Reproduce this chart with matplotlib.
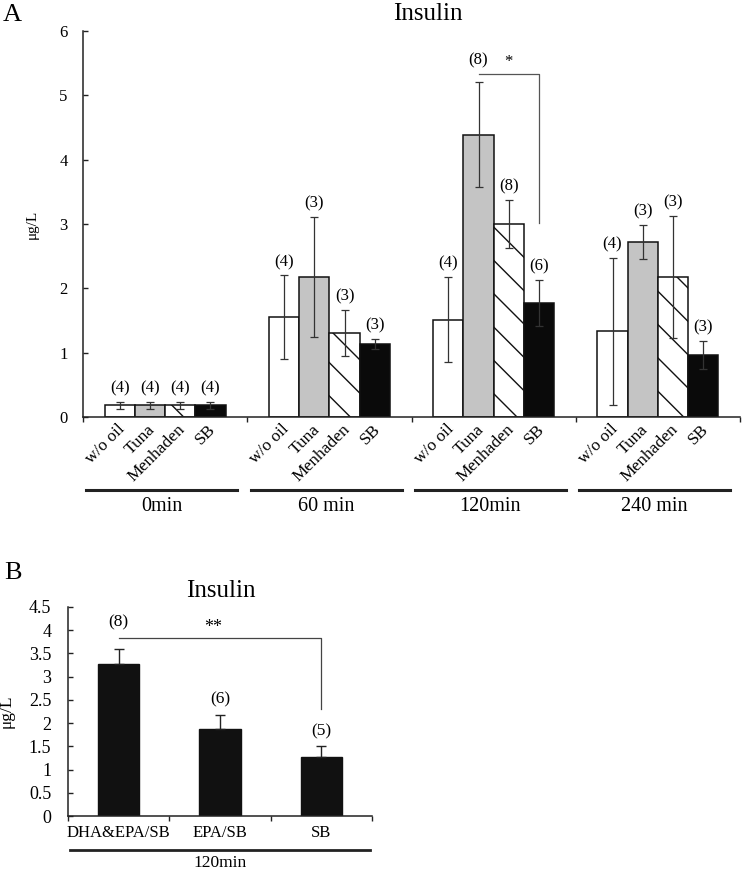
import matplotlib
matplotlib.use("Agg")
import matplotlib.pyplot as plt
import numpy as np

plt.rcParams["font.family"] = ["Liberation Serif", "DejaVu Serif"]

# ── data: panel A ─────────────────────────────────────────────────────────────
groups_a = ["0min", "60 min", "120min", "240 min"]
treatments_a = ["w/o oil", "Tuna", "Menhaden", "SB"]
means_a = [[0.18, 0.18, 0.18, 0.18],
           [1.55, 2.18, 1.31, 1.14],
           [1.51, 4.39, 3.00, 1.77],
           [1.33, 2.72, 2.18, 0.96]]
errs_a = [[0.05, 0.05, 0.05, 0.05],
          [0.65, 0.93, 0.36, 0.08],
          [0.66, 0.82, 0.37, 0.36],
          [1.14, 0.26, 0.95, 0.22]]
n_a = [[4, 4, 4, 4],
       [4, 3, 3, 3],
       [4, 8, 8, 6],
       [4, 3, 3, 3]]
# significance bracket: group, from bar, to bar, bracket height, leg end, mark
sig_a = (2, 1, 3, 5.33, 3.02, "*")

# ── data: panel B ─────────────────────────────────────────────────────────────
labels_b = ["DHA&EPA/SB", "EPA/SB", "SB"]
means_b = [3.27, 1.88, 1.28]
errs_b = [0.33, 0.30, 0.23]
n_b = [8, 6, 5]
group_b = "120min"
sig_b = (0, 2, 3.84, 2.30, "**")

fills = ["white", "#c4c4c4", "white", "#0a0a0a"]
hatches = [None, None, "\\", None]
BAR_W_A = 0.184
BAR_W_B = 0.41

fig = plt.figure(figsize=(7.42, 8.72), dpi=100)
fig.patch.set_facecolor("white")


def style_axes(ax, ysize):
    for s in ("top", "right"):
        ax.spines[s].set_visible(False)
    for s in ("left", "bottom"):
        ax.spines[s].set_linewidth(1.1)
        ax.spines[s].set_color("#222222")
    ax.tick_params(axis="y", direction="in", length=3.5, width=1.0,
                   labelsize=ysize, color="#222222")
    ax.tick_params(axis="x", direction="out", length=3.5, width=1.0,
                   labelbottom=False, color="#222222")


# ── panel A ───────────────────────────────────────────────────────────────────
axA = fig.add_axes([0.1119, 0.5218, 0.8854, 0.4426])
style_axes(axA, 12)
axA.tick_params(axis="y", pad=11)
axA.set_xlim(0, 4)
axA.set_ylim(0, 6)
axA.set_yticks(range(7))
axA.set_xticks(range(5))
axA.set_ylabel("μg/L", fontsize=11)
axA.yaxis.set_label_coords(-0.068, 0.5)

xpos = {}
for g, grp in enumerate(groups_a):
    for k, trt in enumerate(treatments_a):
        x = g + 0.5 + (k - 1.5) * BAR_W_A
        xpos[(g, k)] = x
        axA.bar(x, means_a[g][k], BAR_W_A, color=fills[k], edgecolor="#111111",
                linewidth=1.1, hatch=hatches[k], zorder=2)
        axA.errorbar(x, means_a[g][k], yerr=errs_a[g][k], fmt="none",
                     ecolor="#333333", elinewidth=0.9, capsize=2.8,
                     capthick=0.9, zorder=3)
        top = means_a[g][k] + errs_a[g][k]
        if (g, k) == (sig_a[0], sig_a[1]):
            top = sig_a[3]
        axA.annotate(f"({n_a[g][k]})", (x, top), xytext=(0, 4),
                     textcoords="offset points", ha="center", va="bottom",
                     fontsize=12)
        axA.annotate(trt, (x, 0), xycoords=("data", "axes fraction"),
                     xytext=(3, -10), textcoords="offset pixels",
                     ha="right", va="center", rotation=45,
                     rotation_mode="anchor", fontsize=12.5,
                     annotation_clip=False)
    # group underline and label
    axA.plot([g + 0.02, g + 0.94], [-0.189, -0.189], color="#222222", lw=2.2,
             transform=axA.get_xaxis_transform(), clip_on=False)
    axA.text(g + 0.48, -0.233, grp, transform=axA.get_xaxis_transform(),
             ha="center", va="center", fontsize=14.5)

g, k0, k1, yb, yleg, mark = sig_a
x0, x1 = xpos[(g, k0)], xpos[(g, k1)]
axA.plot([x0, x1, x1], [yb, yb, yleg], color="#555555", lw=0.9, zorder=4)
axA.text((x0 + x1) / 2, yb + 0.06, mark, ha="center", va="bottom", fontsize=12)

fig.text(0.577, 0.984, "Insulin", ha="center", va="center", fontsize=18)
fig.text(0.017, 0.983, "A", ha="center", va="center", fontsize=19)

# ── panel B ───────────────────────────────────────────────────────────────────
axB = fig.add_axes([0.0916, 0.0642, 0.4097, 0.2397])
style_axes(axB, 13)
axB.tick_params(axis="y", pad=12)
axB.set_xlim(0, 3)
axB.set_ylim(0, 4.5)
axB.set_yticks(np.arange(0, 4.51, 0.5))
axB.set_yticklabels(["0", "0.5", "1", "1.5", "2", "2.5", "3", "3.5", "4", "4.5"])
axB.set_xticks(range(4))
axB.set_ylabel("μg/L", fontsize=12.5)
axB.yaxis.set_label_coords(-0.175, 0.5)

for i, lab in enumerate(labels_b):
    x = i + 0.5
    axB.bar(x, means_b[i], BAR_W_B, color="#111111", edgecolor="#111111",
            linewidth=1.0, zorder=2)
    axB.errorbar(x, means_b[i], yerr=[[0], [errs_b[i]]], fmt="none",
                 ecolor="#222222", elinewidth=1.0, capsize=3.5, capthick=1.0,
                 zorder=3)
    top = means_b[i] + errs_b[i]
    if i == sig_b[0]:
        top = sig_b[2]
    axB.annotate(f"({n_b[i]})", (x, top), xytext=(0, 5),
                 textcoords="offset points", ha="center", va="bottom",
                 fontsize=12.5)
    axB.text(x, -0.081, lab, transform=axB.get_xaxis_transform(),
             ha="center", va="center", fontsize=12)

axB.plot([0.02, 2.98], [-0.163, -0.163], color="#222222", lw=2.0,
         transform=axB.get_xaxis_transform(), clip_on=False)
axB.text(1.5, -0.225, group_b, transform=axB.get_xaxis_transform(),
         ha="center", va="center", fontsize=12.5)

k0, k1, yb, yleg, mark = sig_b
axB.plot([k0 + 0.5, k1 + 0.5, k1 + 0.5], [yb, yb, yleg], color="#444444",
         lw=0.9, zorder=4)
axB.text(1.43, yb + 0.03, mark, ha="center", va="bottom", fontsize=13)

fig.text(0.297, 0.322, "Insulin", ha="center", va="center", fontsize=18)
fig.text(0.017, 0.343, "B", ha="center", va="center", fontsize=19)

fig.savefig("out.png", dpi=100, facecolor="white")
